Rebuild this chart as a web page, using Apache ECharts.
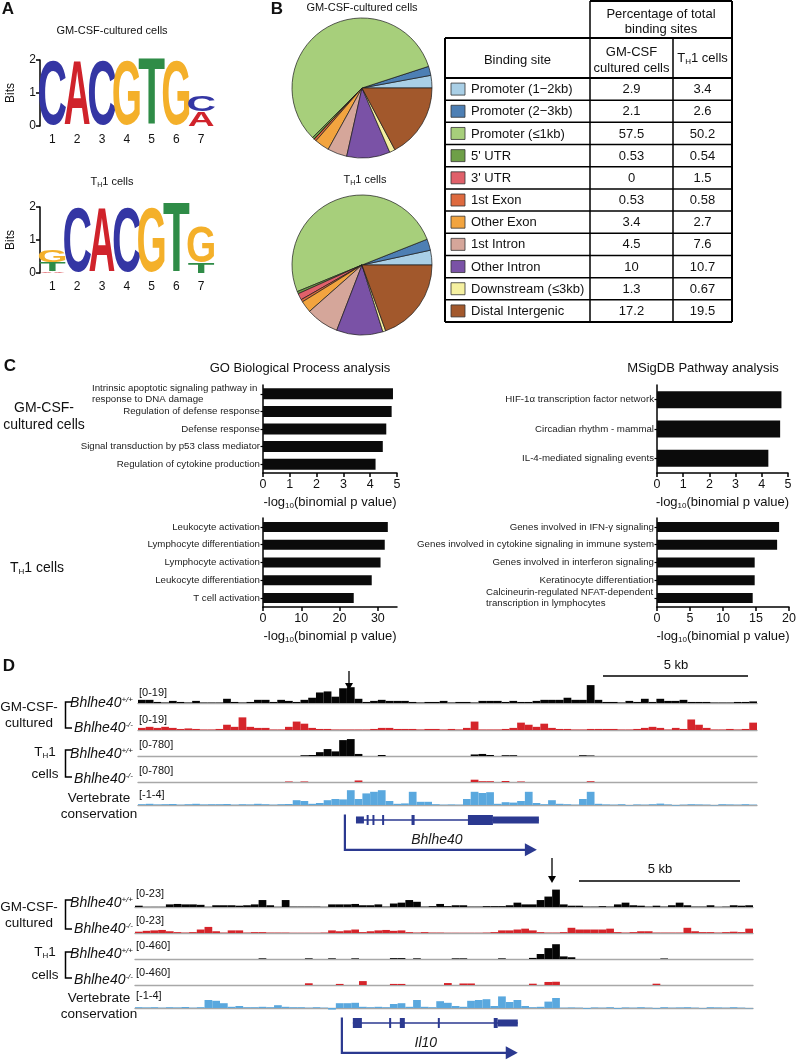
<!DOCTYPE html>
<html><head><meta charset="utf-8">
<script src="https://cdn.jsdelivr.net/npm/echarts@6/dist/echarts.min.js"></script>
<style>html,body{margin:0;padding:0;background:#fff}#c{width:800px;height:1061px}</style>
</head><body><div id="c"></div>
<script>
// ---------------- DATA ----------------
// Panel A: motif logos, per position a stack [letter, bits] from bottom to top
const logoPositions = ['1','2','3','4','5','6','7'];
const logoGM = [[['C',2.0]],[['A',2.0]],[['C',2.0]],[['G',2.0]],[['T',2.05]],[['G',2.0]],[['A',0.45],['C',0.5]]];
const logoTH1 = [[['A',0.05],['T',0.28],['G',0.34]],[['C',1.97]],[['A',2.0]],[['C',2.0]],[['G',2.0]],[['T',2.15]],[['T',0.3],['G',1.1]]];

// Panel B: binding site distribution (%)
const siteNames = ['Promoter (1\u22122kb)','Promoter (2\u22123kb)','Promoter (\u22641kb)',"5' UTR","3' UTR",'1st Exon','Other Exon','1st Intron','Other Intron','Downstream (\u22643kb)','Distal Intergenic'];
const gmPct = [2.9,2.1,57.5,0.53,0,0.53,3.4,4.5,10,1.3,17.2];
const th1Pct = [3.4,2.6,50.2,0.54,1.5,0.58,2.7,7.6,10.7,0.67,19.5];

// Panel C: -log10(binomial p)
const goGMCats = ['Intrinsic apoptotic signaling pathway in\nresponse to DNA damage','Regulation of defense response','Defense response','Signal transduction by p53 class mediator','Regulation of cytokine production'];
const goGMVals = [4.85,4.8,4.6,4.47,4.2];
const goTHCats = ['Leukocyte activation','Lymphocyte differentiation','Lymphocyte activation','Leukocyte differentiation','T cell activation'];
const goTHVals = [32.6,31.8,30.7,28.4,23.7];
const msGMCats = ['HIF-1\u03b1 transcription factor network','Circadian rhythm - mammal','IL-4-mediated signaling events'];
const msGMVals = [4.75,4.7,4.25];
const msTHCats = ['Genes involved in IFN-\u03b3 signaling','Genes involved in cytokine signaling in immune system','Genes involved in interferon signaling','Keratinocyte differentiation','Calcineurin-regulated NFAT-dependent\ntranscription in lymphocytes'];
const msTHVals = [18.5,18.2,14.8,14.8,14.5];

// Panel D: binned coverage tracks (80 bins per locus)
const bhlGMwt = [3,3,1,0.5,2,1,0.5,2,0.5,0.5, 0.5,4,1,0.5,1,3,3,1,3,2, 1,3,5,10,11,6,14,15,4,1, 2,3,2,2,2,1,0.5,1,1,2, 0.5,1,1,0.5,2,2,2,1,2,1, 1,2,3,3,3,5,3,3,17,3, 1,1,0.5,2,1,4,1,4,2,2, 3,1,1,1,0.5,0.5,0.5,1,1,1.5];
const bhlGMko = [2,3,2,3,2,1,1.5,1,0.5,0.5, 1,5,3,12,3,2,2,0.5,0.5,3, 8,6,2,1,1,0.5,0.5,0.5,0.5,0.5, 1,2,2,1,1,1,0.5,1,1,0.5, 1,0.5,2,8,0.5,0.5,0.5,1,2,7, 5,3,6,2,1,1,0.5,0.5,1,1, 1,1,0.5,0.5,1,2,3,2,0.5,2, 1,10,5,2,0.5,0.5,1,0.5,1,7];
const bhlTHwt = [0,0,0,0,0,0,0,0,0,0, 0,0,0,0,0,0,0,0,0,0, 0,30,40,150,270,180,620,660,80,0, 0,40,0,0,0,0,0,0,0,0, 0,0,0,60,80,40,0,30,30,0, 0,0,0,0,0,0,0,30,20,0, 0,0,0,0,0,0,0,0,0,0, 0,0,0,0,0,0,0,0,0,0];
const bhlTHko = [0,0,0,0,0,0,0,0,0,0, 0,0,0,0,0,0,0,0,0,20, 0,20,0,0,0,0,0,0,60,0, 0,0,0,0,0,0,0,0,0,0, 0,0,0,90,30,30,0,40,0,20, 0,0,0,0,0,0,0,0,30,0, 0,0,0,0,0,0,0,0,0,0, 0,0,0,0,0,0,0,0,0,0];
const bhlCons = [0.2,0.3,0.15,0.2,0.25,0.1,0.2,0.3,0.15,0.2, 0.2,0.25,0.1,0.2,0.15,0.3,0.2,0.1,0.2,0.25, 1.2,1.0,0.3,0.5,1.2,1.5,1.4,3.7,1.5,2.9, 3.3,3.7,1.0,0.3,0.4,3.3,0.8,0.8,0.2,0.1, 0.15,0.1,1.5,3.3,3.0,3.2,0.3,0.7,0.6,1.0, 3.3,0.5,0.2,1.2,0.3,0.2,0.1,1.5,3.3,0.3, 0.15,0.1,0.2,-0.1,0.15,0.1,0.2,0.35,0.15,-0.15, 0.1,0.2,0.15,0.1,-0.1,0.2,0.15,0.1,0.2,0.1];
const il10GMwt = [1.5,0.3,0.3,0.3,3,3.5,3,3,2.5,0.3, 2,2,2,1.5,2,3,8,2,0.3,8, 0.5,0.5,0.5,0.5,0.3,3,3,3,3.5,2, 2,3,0.5,4,5,8,6,0.5,1,3.5, 1,2,2,0.5,0.5,1,1,1,2,5, 3,3,8,12,20,3,1.5,1.5,0.5,0.5, 1,0.5,3,5,2,1.5,0.5,1.5,0.5,2, 5,2,0.5,0.5,2,0.3,0.5,2,1.5,2];
const il10GMko = [1.5,2.5,3,3.5,2,1,0.5,1,4,7, 2,0.5,3,3,0.5,1,1,0.5,0.5,0.5, 0.3,0.3,0.3,0.3,0.5,3,2,3,4,1, 2,3,3.5,2.5,3,1,0.5,1,0.5,0.5, 0.3,0.3,0.3,0.3,0.3,0.5,1,3,3,4, 5,3,1,0.5,0.5,1,6,4,4,4, 4,5,1,0.5,1,2,2,0.5,0.5,0.5, 0.5,6,2,1,1,0.5,1,1.5,1,5];
const il10THwt = [0,0,0,0,0,0,0,0,0,0, 0,0,0,0,0,0,15,0,0,0, 0,0,15,0,0,15,0,0,15,0, 0,0,0,20,20,0,15,0,0,0, 0,15,15,0,0,0,0,15,0,0, 0,25,115,250,340,60,40,0,0,0, 0,0,0,0,0,0,0,0,12,0, 0,0,0,0,0,0,0,0,0,0];
const il10THko = [0,0,0,0,0,0,0,0,0,0, 0,0,0,0,0,0,0,0,0,0, 0,0,40,0,0,0,25,0,0,90, 0,0,0,25,25,0,0,0,0,0, 45,0,35,35,0,0,0,0,0,0, 0,30,0,70,75,0,0,0,0,0, 0,0,0,0,0,0,0,30,0,0, 0,0,0,0,0,0,0,0,0,0];
const il10Cons = [0.2,0.15,0.2,0.1,0.2,0.15,0.25,0.1,0.2,2.0, 1.8,1.2,0.3,0.5,0.2,0.2,0.3,0.2,0.7,0.3, 0.2,0.2,0.1,0.2,0.1,-0.4,1.2,1.2,1.3,0.3, 0.2,0.3,0.2,1.0,1.2,0.3,2.0,0.3,0.2,1.7, 1.3,0.5,0.3,1.8,2.0,2.2,0.5,2.9,1.5,2.0, 0.5,0.2,0.3,1.6,2.5,0.1,0.15,0.1,-0.2,0.15, 0.1,0.2,-0.2,0.15,0.1,0.2,0.1,-0.15,0.2,0.1, 0.15,0.2,0.1,-0.1,0.2,0.15,0.1,0.2,0.1,-0.1];
const trackRangesTop = ['[0-19]','[0-19]','[0-780]','[0-780]','[-1-4]'];
const trackRangesBot = ['[0-23]','[0-23]','[0-460]','[0-460]','[-1-4]'];
// gene models (bin units): [tss, txStart, txEnd, arrowEnd]; exons [start, end, kind 0=thin 1=utr 2=cds]
const bhlSpan = [26.74, 28.17, 51.81, 51.55];
const bhlExons = [[28.17,29.2,1],[29.55,29.8,0],[30.3,30.55,0],[31.55,31.8,0],[35.35,35.75,0],[42.64,45.87,2],[45.87,51.81,1]];
const il10Span = [26.78, 28.2, 49.55, 49.55];
const il10Exons = [[28.2,29.37,2],[32.9,33.15,0],[34.28,34.93,2],[39.2,39.45,0],[46.44,46.95,2],[46.95,49.55,1]];

// ---------------- STYLE ----------------
const FONT = '"Liberation Sans", Arial, Helvetica, sans-serif';
const siteColors = ['#a9cfe6','#4d7fb4','#a7cf7b','#6e9f47','#e0606a','#de6a3f','#f2a43f','#d5a69a','#7a52a6','#f5f0a0','#a2582c'];
const LETTERS = ['A','C','G','T'];
const letterColors = {A:'#d0232b', C:'#3436a4', G:'#f4b02a', T:'#2f8c47'};
const inkW = {A:0.66, C:0.60, G:0.63, T:0.56};
const GENE = '#2b3990';

const grids = [], xAxes = [], yAxes = [], series = [], graphics = [];
function addGrid(g){ grids.push(Object.assign({containLabel:false}, g)); return grids.length - 1; }

function txt(x, y, text, size, opt) {
  opt = opt || {};
  return {type:'text', x:x, y:y, silent:true, z:10,
    style:Object.assign({text:text, fontSize:size, fontFamily:FONT, fontWeight:opt.bold?'bold':'normal', fontStyle:opt.italic?'italic':'normal', fill:'#111', align:opt.align||'center', verticalAlign:'middle'}, opt.style||{})};
}
function line(x1,y1,x2,y2,w,c){ return {type:'line', silent:true, shape:{x1,y1,x2,y2}, style:{stroke:c||'#000', lineWidth:w||1.5}}; }

// ---------------- PANEL A ----------------
function renderLetter(params, api) {
  const i = api.value(0), y0 = api.value(1), y1 = api.value(2), L = LETTERS[api.value(3)];
  const pb = api.coord([i, y0]), pt = api.coord([i, y1]);
  const w = api.size([1, 0])[0] * 0.99, h = pb[1] - pt[1];
  if (h < 0.3) return null;
  const sy = h / 72;
  return {type:'text', x:pb[0], y:(pb[1]+pt[1])/2 + 6*sy, scaleX:w/(inkW[L]*100), scaleY:sy,
    style:{text:L, font:'bold 100px "Liberation Sans", Arial, sans-serif', fill:letterColors[L], align:'center', verticalAlign:'middle'}};
}
[{d:logoGM, top:60},{d:logoTH1, top:207}].forEach(function(L){
  const gi = addGrid({left:40, top:L.top, width:173.6, height:66});
  xAxes.push({gridIndex:gi, type:'category', data:logoPositions, axisLine:{show:false}, axisTick:{show:false}, axisLabel:{fontSize:12, color:'#111', margin:8, fontFamily:FONT}});
  yAxes.push({gridIndex:gi, type:'value', min:0, max:2, interval:1, splitLine:{show:false},
    axisLine:{show:true, lineStyle:{color:'#000', width:1.5}}, axisTick:{show:true, length:4, lineStyle:{color:'#000', width:1.5}},
    axisLabel:{fontSize:12, color:'#111', margin:4, fontFamily:FONT},
    name:'Bits', nameLocation:'middle', nameGap:23, nameTextStyle:{fontSize:12, color:'#111', fontFamily:FONT}});
  const items = [];
  L.d.forEach(function(stack, i){ let b = 0; stack.forEach(function(s){ items.push([i, b, b + s[1], LETTERS.indexOf(s[0])]); b += s[1]; }); });
  series.push({type:'custom', xAxisIndex:xAxes.length-1, yAxisIndex:yAxes.length-1, data:items, renderItem:renderLetter, clip:false, silent:true});
});
graphics.push(txt(8, 9, 'A', 17, {bold:true}));
graphics.push(txt(112, 31, 'GM-CSF-cultured cells', 11));
graphics.push({type:'text', x:112, y:182, silent:true, style:{text:'{n|T}{s|H}{n|1 cells}', align:'center', verticalAlign:'middle', rich:{n:{fontSize:11, fontFamily:FONT, fill:'#111'}, s:{fontSize:7, fontFamily:FONT, fill:'#111', verticalAlign:'bottom', padding:[6,0,0,0]}}}});

// ---------------- PANEL B ----------------
[[gmPct,[362,88]],[th1Pct,[362,265]]].forEach(function(p){
  series.push({type:'pie', center:p[1], radius:70, startAngle:0, clockwise:false, silent:true,
    label:{show:false}, labelLine:{show:false}, itemStyle:{borderColor:'#1a1a1a', borderWidth:0.7},
    data:siteNames.map(function(n,i){ return {name:n, value:p[0][i], itemStyle:{color:siteColors[i]}}; })});
});
graphics.push(txt(277, 9, 'B', 17, {bold:true}));
graphics.push(txt(362, 8, 'GM-CSF-cultured cells', 11));
graphics.push({type:'text', x:365, y:180, silent:true, style:{text:'{n|T}{s|H}{n|1 cells}', align:'center', verticalAlign:'middle', rich:{n:{fontSize:11, fontFamily:FONT, fill:'#111'}, s:{fontSize:7, fontFamily:FONT, fill:'#111', verticalAlign:'bottom', padding:[6,0,0,0]}}}});
(function(){
  const L = 445, C1 = 590, C2 = 673, R = 732, T0 = 1, T1 = 38, T2 = 78, RH = (322 - 78) / siteNames.length;
  const B = T2 + RH * siteNames.length;
  graphics.push(line(C1, T0, R, T0, 2));
  graphics.push(line(L, T1, R, T1, 2));
  graphics.push(line(C1, T0, C1, B, 1.5));
  graphics.push(line(R, T0, R, B, 2));
  graphics.push(line(L, T1, L, B, 2));
  graphics.push(line(C2, T1, C2, B, 1.5));
  graphics.push(line(L, B, R, B, 2));
  graphics.push(txt((C1+R)/2, 14, 'Percentage of total', 13));
  graphics.push(txt((C1+R)/2, 29, 'binding sites', 13));
  graphics.push(txt((L+C1)/2, 60, 'Binding site', 13));
  graphics.push(txt((C1+C2)/2, 52, 'GM-CSF', 13));
  graphics.push(txt((C1+C2)/2, 68, 'cultured cells', 13));
  graphics.push({type:'text', x:(C2+R)/2, y:58, silent:true, style:{text:'{n|T}{s|H}{n|1 cells}', align:'center', verticalAlign:'middle', rich:{n:{fontSize:13, fontFamily:FONT, fill:'#111'}, s:{fontSize:8, fontFamily:FONT, fill:'#111', verticalAlign:'bottom', padding:[7,0,0,0]}}}});
  siteNames.forEach(function(n, i){
    const y0 = T2 + RH * i, yc = y0 + RH / 2;
    graphics.push(line(L, y0, R, y0, i === 0 ? 2 : 1.5));
    graphics.push({type:'rect', silent:true, shape:{x:451, y:yc-6, width:14, height:12}, style:{fill:siteColors[i], stroke:'#333', lineWidth:0.8}});
    graphics.push(txt(471, yc+0.5, n, 13, {align:'left'}));
    graphics.push(txt((C1+C2)/2, yc+0.5, String(gmPct[i]), 13));
    graphics.push(txt((C2+R)/2, yc+0.5, String(th1Pct[i]), 13));
  });
})();

// ---------------- PANEL C ----------------
function catFormatter(v){
  if (v.indexOf('\n') >= 0) { const p = v.split('\n'); return '{l|' + p[0] + '}\n{l|' + p[1] + '}'; }
  return v;
}
function addBarChart(box, cats, vals, max, interval, barW){
  const gi = addGrid(box);
  xAxes.push({gridIndex:gi, type:'value', min:0, max:max, interval:interval, splitLine:{show:false},
    axisLine:{show:true, lineStyle:{color:'#000', width:1.5}}, axisTick:{show:true, length:4, lineStyle:{color:'#000', width:1.5}},
    axisLabel:{fontSize:12.5, color:'#111', margin:5, fontFamily:FONT, showMaxLabel: (max % interval === 0)},
    name:'{n|-log}{s|10}{n|(binomial p value)}', nameLocation:'middle', nameGap:21,
    nameTextStyle:{rich:{n:{fontSize:13, fontFamily:FONT, color:'#111'}, s:{fontSize:8, fontFamily:FONT, color:'#111', verticalAlign:'bottom', padding:[8,0,0,0]}}}});
  yAxes.push({gridIndex:gi, type:'category', inverse:true, data:cats,
    axisLine:{show:true, lineStyle:{color:'#000', width:1.5}}, axisTick:{show:true, length:2.5, alignWithLabel:true, lineStyle:{color:'#000', width:1.2}},
    axisLabel:{fontSize:9.7, color:'#222', margin:3, fontFamily:FONT, formatter:catFormatter, lineHeight:11,
      rich:{l:{fontSize:9.7, color:'#222', fontFamily:FONT, width:168, align:'left', lineHeight:11}}}});
  series.push({type:'bar', xAxisIndex:xAxes.length-1, yAxisIndex:yAxes.length-1, data:vals, barWidth:barW, itemStyle:{color:'#0b0b0b'}, silent:true});
}
addBarChart({left:263, top:385, width:134, height:88}, goGMCats, goGMVals, 5, 1, 11);
addBarChart({left:263, top:518, width:134, height:89}, goTHCats, goTHVals, 35, 10, 10);
addBarChart({left:657, top:385, width:131, height:88}, msGMCats, msGMVals, 5, 1, 17);
addBarChart({left:657, top:518, width:132, height:89}, msTHCats, msTHVals, 20, 5, 10);
graphics.push(txt(10, 366, 'C', 17, {bold:true}));
graphics.push(txt(300, 368, 'GO Biological Process analysis', 13));
graphics.push(txt(703, 368, 'MSigDB Pathway analysis', 13));
graphics.push(txt(44, 408, 'GM-CSF-', 14));
graphics.push(txt(44, 425, 'cultured cells', 14));
graphics.push({type:'text', x:10, y:568, silent:true, style:{text:'{n|T}{s|H}{n|1 cells}', align:'left', verticalAlign:'middle', rich:{n:{fontSize:14, fontFamily:FONT, fill:'#111'}, s:{fontSize:8, fontFamily:FONT, fill:'#111', verticalAlign:'bottom', padding:[8,0,0,0]}}}});

// ---------------- PANEL D ----------------
const bins = bhlGMwt.map(function(_, i){ return i; });
function addTrack(left, width, top, vals, min, max, color){
  const gi = addGrid({left:left, top:top, width:width, height:20});
  xAxes.push({gridIndex:gi, type:'category', data:bins, axisLine:{show:true, onZero:true, lineStyle:{color:'#a8a8a8', width:1.3}}, axisTick:{show:false}, axisLabel:{show:false}});
  yAxes.push({gridIndex:gi, type:'value', min:min, max:max, show:false});
  series.push({type:'bar', xAxisIndex:xAxes.length-1, yAxisIndex:yAxes.length-1, data:vals, barCategoryGap:'0%', itemStyle:{color:color}, silent:true, z:3});
}
function renderSpan(params, api){
  const t = api.coord([api.value(0), 0])[0], s = api.coord([api.value(1), 0])[0], e = api.coord([api.value(2), 0])[0], a = api.coord([api.value(3), 0])[0];
  const yl = api.coord([0, 8.1])[1], yt = api.coord([0, 9.4])[1], ya = api.coord([0, 1])[1], yn = api.coord([0, 3.4])[1];
  return {type:'group', children:[
    {type:'line', shape:{x1:s, y1:yl, x2:e, y2:yl}, style:{stroke:GENE, lineWidth:1.6}},
    {type:'polyline', shape:{points:[[t, yt],[t, ya],[a-10, ya]]}, style:{stroke:GENE, lineWidth:2.2, fill:null}},
    {type:'polygon', shape:{points:[[a-12, ya-6.5],[a, ya],[a-12, ya+6.5]]}, style:{fill:GENE}},
    {type:'text', x:(t+a)/2 - 4, y:yn, style:{text:params.seriesName, font:'italic 14px "Liberation Sans", Arial, sans-serif', fill:'#1a1a1a', align:'center', verticalAlign:'middle'}}
  ]};
}
function renderExon(params, api){
  const s = api.coord([api.value(0), 8.1]), e = api.coord([api.value(1), 8.1]), k = api.value(2);
  const h = k === 1 ? 7 : 10;
  const w = Math.max(e[0] - s[0], 2);
  return {type:'rect', shape:{x:s[0], y:s[1]-h/2, width:w, height:h}, style:{fill:GENE}};
}
function addGene(left, width, top, name, span, exons){
  const gi = addGrid({left:left, top:top, width:width, height:42});
  xAxes.push({gridIndex:gi, type:'value', min:0, max:bins.length, show:false});
  yAxes.push({gridIndex:gi, type:'value', min:0, max:10, show:false});
  series.push({type:'custom', name:name, xAxisIndex:xAxes.length-1, yAxisIndex:yAxes.length-1, data:[span], renderItem:renderSpan, clip:false, silent:true});
  series.push({type:'custom', xAxisIndex:xAxes.length-1, yAxisIndex:yAxes.length-1, data:exons, renderItem:renderExon, clip:false, silent:true, z:4});
}
const locusTop = {left:138, width:619, tops:[683, 710, 736, 762, 789], geneTop:812};
const locusBot = {left:135, width:618, tops:[887, 913, 939, 965, 992], geneTop:1015};
[[locusTop, [bhlGMwt, bhlGMko, bhlTHwt, bhlTHko, bhlCons], [19,19,780,780], 'Bhlhe40', bhlSpan, bhlExons],
 [locusBot, [il10GMwt, il10GMko, il10THwt, il10THko, il10Cons], [23,23,460,460], 'Il10', il10Span, il10Exons]].forEach(function(P){
  const loc = P[0], tr = P[1], mx = P[2];
  const cols = ['#050505', '#d5252b', '#050505', '#d5252b'];
  for (let k = 0; k < 4; k++) addTrack(loc.left, loc.width, loc.tops[k], tr[k], 0, mx[k], cols[k]);
  addTrack(loc.left, loc.width, loc.tops[4], tr[4], -1, 4, '#5aa8de');
  addGene(loc.left, loc.width, loc.geneTop, P[3], P[4], P[5]);
});
graphics.push(txt(9, 666, 'D', 17, {bold:true}));
function leftLabels(rangeX, rangeYs, ranges, rows){
  const gt = ['+/+','-/-','+/+','-/-'];
  rows.forEach(function(y, i){
    graphics.push({type:'text', x:133, y:y, silent:true, style:{text:'{i|Bhlhe40}{s|' + gt[i] + '}', align:'right', verticalAlign:'middle',
      rich:{i:{fontSize:14, fontStyle:'italic', fontFamily:FONT, fill:'#111'}, s:{fontSize:8, fontStyle:'italic', fontFamily:FONT, fill:'#111', verticalAlign:'top', padding:[0,0,7,0]}}}});
  });
  ranges.forEach(function(r, i){ graphics.push(txt(rangeX, rangeYs[i], r, 11, {align:'left'})); });
}
// top locus labels
leftLabels(139, [693, 720, 745, 771, 795], trackRangesTop, [703, 728, 754, 779]);
graphics.push(txt(29, 707, 'GM-CSF-', 13.5), txt(29, 723, 'cultured', 13.5));
graphics.push({type:'polyline', silent:true, shape:{points:[[72,702],[65.5,702],[65.5,728],[72,728]]}, style:{stroke:'#000', lineWidth:1.5, fill:null}});
graphics.push({type:'text', x:45, y:752, silent:true, style:{text:'{n|T}{s|H}{n|1}', align:'center', verticalAlign:'middle', rich:{n:{fontSize:13.5, fontFamily:FONT, fill:'#111'}, s:{fontSize:8, fontFamily:FONT, fill:'#111', verticalAlign:'bottom', padding:[8,0,0,0]}}}});
graphics.push(txt(45, 774, 'cells', 13.5));
graphics.push({type:'polyline', silent:true, shape:{points:[[72,750],[65.5,750],[65.5,777],[72,777]]}, style:{stroke:'#000', lineWidth:1.5, fill:null}});
graphics.push(txt(99, 798, 'Vertebrate', 13.5), txt(99, 814, 'conservation', 13.5));
// bottom locus labels
leftLabels(136, [894, 921, 946, 973, 996], trackRangesBot, [903, 929, 954, 980]);
graphics.push(txt(29, 907, 'GM-CSF-', 13.5), txt(29, 923, 'cultured', 13.5));
graphics.push({type:'polyline', silent:true, shape:{points:[[72,900],[65.5,900],[65.5,929],[72,929]]}, style:{stroke:'#000', lineWidth:1.5, fill:null}});
graphics.push({type:'text', x:45, y:952, silent:true, style:{text:'{n|T}{s|H}{n|1}', align:'center', verticalAlign:'middle', rich:{n:{fontSize:13.5, fontFamily:FONT, fill:'#111'}, s:{fontSize:8, fontFamily:FONT, fill:'#111', verticalAlign:'bottom', padding:[8,0,0,0]}}}});
graphics.push(txt(45, 975, 'cells', 13.5));
graphics.push({type:'polyline', silent:true, shape:{points:[[72,952],[65.5,952],[65.5,978],[72,978]]}, style:{stroke:'#000', lineWidth:1.5, fill:null}});
graphics.push(txt(99, 998, 'Vertebrate', 13.5), txt(99, 1014, 'conservation', 13.5));
// peak arrows and scale bars
function arrow(x, y1, y2){
  graphics.push(line(x, y1, x, y2 - 5, 1.3));
  graphics.push({type:'polygon', silent:true, shape:{points:[[x-4, y2-7],[x+4, y2-7],[x, y2]]}, style:{fill:'#000'}});
}
arrow(349, 671, 690);
arrow(552, 858, 883);
graphics.push(line(603, 676, 748, 676, 1.5), txt(676, 665, '5 kb', 13));
graphics.push(line(579, 881, 740, 881, 1.5), txt(660, 869, '5 kb', 13));

const option = {
  animation:false, backgroundColor:'#fff',
  textStyle:{fontFamily:FONT},
  grid:grids, xAxis:xAxes, yAxis:yAxes, series:series, graphic:{elements:graphics}
};
const chart = echarts.init(document.getElementById('c'), null, {renderer:'canvas', width:800, height:1061});
chart.setOption(option);
</script></body></html>
